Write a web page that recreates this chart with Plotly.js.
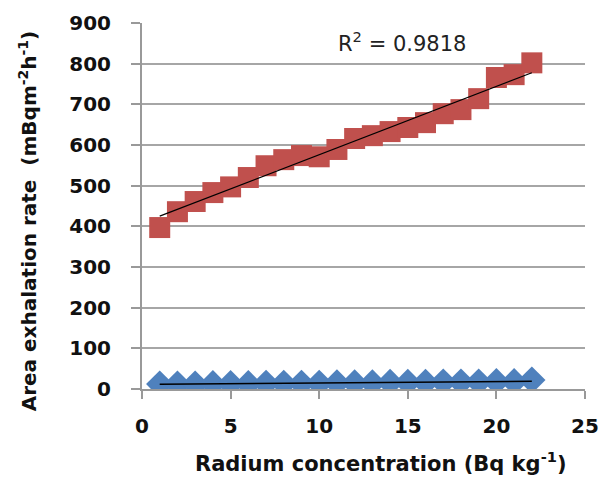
<!DOCTYPE html>
<html>
<head>
<meta charset="utf-8">
<script src="https://cdn.plot.ly/plotly-3.0.1.min.js"></script>
<style>html,body{margin:0;padding:0;background:#fff;}#chart{width:603px;height:479px;}</style>
</head>
<body>
<div id="chart"></div>
<script>
var radium = [1,2,3,4,5,6,7,8,9,10,11,12,13,14,15,16,17,18,19,20,21,22];
var exhalationHigh = [397,436,461,483,497,520,549,564,574,571,589,616,623,633,643,655,677,687,714,766,773,802];
var exhalationLow = [12,12,12,13,13,13,14,14,14,14,15,15,15,16,16,16,17,17,17,18,18,22];
var xTicks = [0,5,10,15,20,25];
var yTicks = [0,100,200,300,400,500,600,700,800,900];
var r2Label = "R<sup>2</sup> = 0.9818";
var xTitle = 'Radium concentration (Bq kg<sup>-1</sup>)';
var yTitle = 'Area exhalation rate  (mBqm<sup>-2</sup>h<sup>-1</sup>)';

function fit(xs, ys) {
  var n = xs.length, sx = 0, sy = 0, sxx = 0, sxy = 0;
  for (var i = 0; i < n; i++) { sx += xs[i]; sy += ys[i]; sxx += xs[i]*xs[i]; sxy += xs[i]*ys[i]; }
  var b = (n*sxy - sx*sy) / (n*sxx - sx*sx);
  var a = (sy - b*sx) / n;
  return xs.map(function (x) { return a + b*x; });
}

var traces = [
  {x: radium, y: exhalationLow, mode: 'markers', type: 'scatter',
   marker: {symbol: 'diamond', size: 21, color: '#4F81BD'}, hoverinfo: 'x+y'},
  {x: radium, y: exhalationHigh, mode: 'markers', type: 'scatter',
   marker: {symbol: 'square', size: 21, color: '#C0504D'}, hoverinfo: 'x+y'},
  {x: radium, y: fit(radium, exhalationLow), mode: 'lines', type: 'scatter',
   line: {color: '#000', width: 1.5}, hoverinfo: 'skip'},
  {x: radium, y: fit(radium, exhalationHigh), mode: 'lines', type: 'scatter',
   line: {color: '#000', width: 1.2}, hoverinfo: 'skip'}
];

var fam = '"DejaVu Sans", sans-serif';
var tickFont = {family: fam, size: 20, color: '#111', weight: 'bold'};
var titleFont = {family: fam, size: 21, color: '#111', weight: 'bold'};

var layout = {
  width: 603, height: 479,
  margin: {l: 142, r: 18, t: 23, b: 90},
  paper_bgcolor: '#fff', plot_bgcolor: '#fff',
  showlegend: false,
  xaxis: {
    range: [0, 25], tickvals: xTicks, ticktext: xTicks.map(String),
    showgrid: false, zeroline: false,
    showline: true, linecolor: '#999', linewidth: 2,
    ticks: 'outside', ticklen: 8, tickwidth: 2, tickcolor: '#999',
    tickfont: tickFont, ticklabelstandoff: 10
  },
  yaxis: {
    range: [0, 900], tickvals: yTicks, ticktext: yTicks.map(String),
    showgrid: true, gridcolor: '#a6a6a6', gridwidth: 2,
    zeroline: false,
    showline: true, linecolor: '#999', linewidth: 2,
    ticks: 'outside', ticklen: 9, tickwidth: 2, tickcolor: '#999',
    tickfont: tickFont, ticklabelstandoff: 16
  },
  annotations: [
    {text: r2Label, xref: 'paper', yref: 'paper', x: 0.587, y: 0.948,
     xanchor: 'center', yanchor: 'middle', showarrow: false,
     font: {family: fam, size: 21, color: '#222'}},
    {text: xTitle, xref: 'paper', yref: 'paper', x: 0.54, y: -0.2,
     xanchor: 'center', yanchor: 'middle', showarrow: false, font: titleFont},
    {text: yTitle, xref: 'paper', yref: 'paper', x: -0.258, y: 0.46,
     xanchor: 'center', yanchor: 'middle', showarrow: false, textangle: -90,
     font: {family: fam, size: 20, color: '#111', weight: 'bold'}}
  ]
};

Plotly.newPlot('chart', traces, layout, {displayModeBar: false, staticPlot: true});
</script>
</body>
</html>
